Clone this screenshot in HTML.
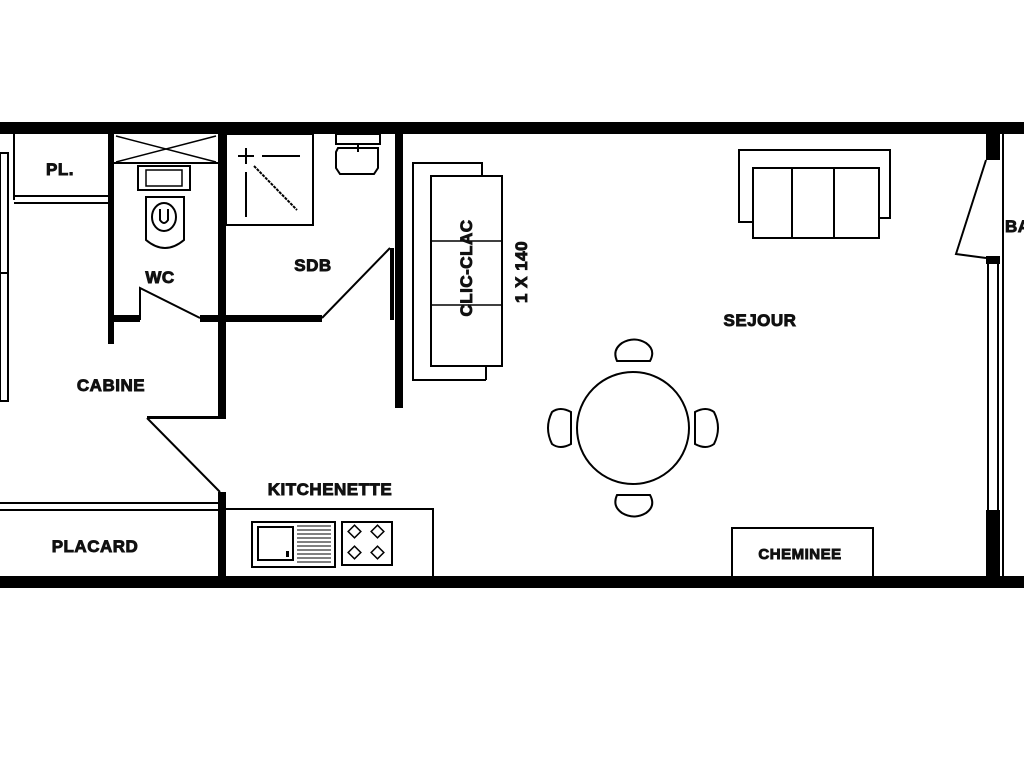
<!DOCTYPE html>
<html><head><meta charset="utf-8"><style>
html,body{margin:0;padding:0;background:#fff;width:1024px;height:768px;overflow:hidden}
text{font-family:"Liberation Sans",sans-serif;font-weight:bold;fill:#111;stroke:#111;stroke-width:0.9;letter-spacing:0.5px}
</style></head><body>
<svg width="1024" height="768" viewBox="0 0 1024 768" xmlns="http://www.w3.org/2000/svg">
<g fill="#000">
<rect x="0" y="122" width="1024" height="12"/>
<rect x="0" y="576" width="1024" height="12"/>
<rect x="108" y="134" width="6" height="210"/>
<rect x="218" y="134" width="8" height="285"/>
<rect x="147" y="416" width="79" height="3"/>
<rect x="218" y="492" width="8" height="84"/>
<rect x="114" y="315" width="26" height="7"/>
<rect x="200" y="315" width="122" height="7"/>
<rect x="390" y="248" width="4" height="72"/>
<rect x="395" y="134" width="8" height="274"/>
<rect x="986" y="134" width="14" height="26"/>
<rect x="986" y="256" width="14" height="8"/>
<rect x="986" y="510" width="14" height="66"/>
</g>
<g fill="none" stroke="#000" stroke-width="2">
<rect x="0" y="153" width="8" height="120"/>
<rect x="0" y="273" width="8" height="128"/>
<line x1="14" y1="134" x2="14" y2="200"/>
<line x1="14" y1="196" x2="108" y2="196"/>
<line x1="14" y1="203" x2="108" y2="203"/>
<line x1="114" y1="163" x2="218" y2="163"/>
<line x1="116" y1="136" x2="216" y2="162" stroke-width="1.5"/>
<line x1="116" y1="162" x2="216" y2="136" stroke-width="1.5"/>
<rect x="138" y="166" width="52" height="24"/>
<rect x="146" y="170" width="36" height="16" stroke-width="1.5"/>
<path d="M146 197 H184 V240 Q165 256 146 240 Z"/>
<ellipse cx="164" cy="217" rx="12" ry="14"/>
<path d="M160 209 V220 Q164 226 168 220 V209" stroke-width="2"/>
<polyline points="140,320 140,288 200,318"/>
<line x1="322" y1="318" x2="390" y2="248"/>
<line x1="147" y1="418" x2="220" y2="492"/>
<rect x="226" y="134" width="87" height="91"/>
<line x1="238" y1="156" x2="254" y2="156"/>
<line x1="246" y1="148" x2="246" y2="164"/>
<line x1="262" y1="156" x2="300" y2="156"/>
<line x1="246" y1="172" x2="246" y2="217"/>
<line x1="254" y1="166" x2="297" y2="210" stroke-dasharray="3,1"/>
<rect x="336" y="134" width="44" height="10"/>
<path d="M338 148 H378 V168 L374 174 H340 L336 168 V152 Z"/>
<line x1="358" y1="144" x2="358" y2="152"/>
<line x1="0" y1="503" x2="218" y2="503"/>
<line x1="0" y1="510" x2="218" y2="510"/>
<polyline points="226,509 433,509 433,576"/>
<rect x="252" y="522" width="83" height="45"/>
<rect x="258" y="527" width="35" height="33"/>
<rect x="342" y="522" width="50" height="43"/>
<polyline points="486,380 413,380 413,163 482,163 482,176" stroke-width="2"/>
<rect x="431" y="176" width="71" height="190"/>
<line x1="431" y1="241" x2="502" y2="241" stroke-width="1.5"/>
<line x1="431" y1="305" x2="502" y2="305" stroke-width="1.5"/>
<line x1="486" y1="366" x2="486" y2="380" stroke-width="2"/>
<polyline points="753,222 739,222 739,150 890,150 890,218 879,218" stroke-width="2"/>
<rect x="753" y="168" width="126" height="70"/>
<line x1="792" y1="168" x2="792" y2="238"/>
<line x1="834" y1="168" x2="834" y2="238"/>
<circle cx="633" cy="428" r="56"/>
<path d="M617 361 Q612 350 622 343 Q634 336 646 343 Q656 350 650 361 Z"/>
<path d="M617 495 Q612 506 622 513 Q634 520 646 513 Q656 506 650 495 Z"/>
<path d="M571 412 Q560 406 552 412 Q544 428 552 444 Q560 450 571 444 Z"/>
<path d="M695 412 Q706 406 714 412 Q722 428 714 444 Q706 450 695 444 Z"/>
<polyline points="986,160 956,254 986,258"/>
<line x1="988" y1="264" x2="988" y2="510"/>
<line x1="998" y1="264" x2="998" y2="510"/>
<line x1="1003" y1="134" x2="1003" y2="576" stroke-width="2"/>
<polyline points="732,576 732,528 873,528 873,576"/>
</g>
<g stroke="#000" stroke-width="1">
<line x1="297" y1="526" x2="331" y2="526"/><line x1="297" y1="530" x2="331" y2="530"/>
<line x1="297" y1="534" x2="331" y2="534"/><line x1="297" y1="538" x2="331" y2="538"/>
<line x1="297" y1="542" x2="331" y2="542"/><line x1="297" y1="546" x2="331" y2="546"/>
<line x1="297" y1="550" x2="331" y2="550"/><line x1="297" y1="554" x2="331" y2="554"/>
<line x1="297" y1="558" x2="331" y2="558"/><line x1="297" y1="562" x2="331" y2="562"/>
</g>
<rect x="286" y="551" width="3" height="6" fill="#000"/>
<g fill="none" stroke="#000" stroke-width="1.5">
<rect x="350" y="527" width="9" height="9" transform="rotate(45 354.5 531.5)"/>
<rect x="373" y="527" width="9" height="9" transform="rotate(45 377.5 531.5)"/>
<rect x="350" y="548" width="9" height="9" transform="rotate(45 354.5 552.5)"/>
<rect x="373" y="548" width="9" height="9" transform="rotate(45 377.5 552.5)"/>
</g>
<g font-size="17" text-anchor="middle">
<text x="60" y="175">PL.</text>
<text x="160" y="283">WC</text>
<text x="313" y="271">SDB</text>
<text x="111" y="391">CABINE</text>
<text x="330" y="495">KITCHENETTE</text>
<text x="95" y="552">PLACARD</text>
<text x="760" y="326">SEJOUR</text>
<text x="1005" y="232" text-anchor="start">BA</text>
<text transform="translate(472,268) rotate(-90)">CLIC-CLAC</text>
<text transform="translate(527,272) rotate(-90)">1 X 140</text>
</g>
<text x="800" y="559" font-size="15" text-anchor="middle">CHEMINEE</text>
</svg>
</body></html>
